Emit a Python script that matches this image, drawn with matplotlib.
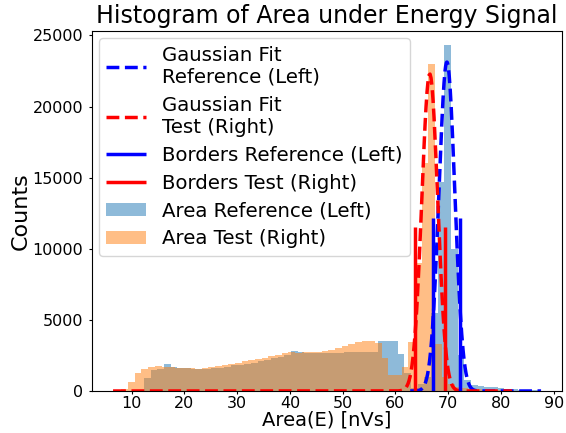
import numpy as np
import matplotlib
matplotlib.use("Agg")
import matplotlib.pyplot as plt

# histogram bins (same width for both runs, different start)
bin_width = 1.265
ref_start = 12.35
test_start = 6.8

# counts per bin, Reference (Left)
ref_counts = [900, 1500, 1550, 1900, 1700, 1650, 1620, 1560, 1520, 1550,
              1600, 1650, 1720, 1800, 1850, 1920, 2000, 2100, 2200, 2300,
              2400, 2500, 2800, 2750, 2700, 2700, 2680, 2680, 2700, 2700,
              2720, 2720, 2750, 2750, 2750, 3500, 3500, 3520, 2600, 1300,
              200, 500, 1000, 5500, 14700, 24300, 10000, 2500, 800, 450,
              350, 300, 250, 200, 150, 120, 90, 70, 50, 30]

# counts per bin, Test (Right)
test_counts = [20, 120, 650, 1240, 1520, 1710, 1750, 1700, 1680, 1650,
               1640, 1600, 1560, 1620, 1700, 1780, 1850, 1930, 2000, 2080,
               2150, 2250, 2350, 2450, 2550, 2650, 2750, 2700, 2720, 2740,
               2760, 2800, 2880, 3000, 3150, 3300, 3450, 3500, 3550, 3350,
               2290, 1120, 1100, 1700, 3460, 9000, 16000, 23000, 3300, 1000,
               500, 300, 200, 150, 120, 100, 80, 60, 40, 20]

# gaussian fit parameters: amplitude, mean, sigma, x range
ref_fit = (23130, 69.75, 1.5)
ref_fit_range = (62.8, 87.6)
test_fit = (22300, 66.5, 1.5)
test_fit_range = (6.47, 82.1)

# integration borders
ref_borders = [67.05, 72.3]
test_borders = [63.76, 69.3]


def gauss(x, a, mu, sigma):
    return a * np.exp(-(x - mu) ** 2 / (2 * sigma ** 2))


ref_edges = ref_start + bin_width * np.arange(len(ref_counts) + 1)
test_edges = test_start + bin_width * np.arange(len(test_counts) + 1)

fig, ax = plt.subplots(figsize=(5.66, 4.33), dpi=100)
fig.subplots_adjust(left=0.162, right=0.9935, top=0.928, bottom=0.097)

x_ref = np.linspace(*ref_fit_range, 400)
x_test = np.linspace(*test_fit_range, 400)
ax.plot(x_ref, gauss(x_ref, *ref_fit), '--', color='blue', lw=2.5,
        label='Gaussian Fit\nReference (Left)')
ax.plot(x_test, gauss(x_test, *test_fit), '--', color='red', lw=2.5,
        label='Gaussian Fit\nTest (Right)')

ax.vlines(ref_borders, 0, max(ref_counts) / 2, color='blue', lw=2.5,
          label='Borders Reference (Left)')
ax.vlines(test_borders, 0, max(test_counts) / 2, color='red', lw=2.5,
          label='Borders Test (Right)')

ax.hist(ref_edges[:-1], bins=ref_edges, weights=ref_counts, alpha=0.5,
        label='Area Reference (Left)')
ax.hist(test_edges[:-1], bins=test_edges, weights=test_counts, alpha=0.5,
        label='Area Test (Right)')

ax.set_xlim(2.42, 91.63)
ax.set_ylim(0, 25300)
ax.set_xticks(range(10, 91, 10))
ax.tick_params(labelsize=11.5, length=2.5)
ax.tick_params(axis='x', pad=1)
ax.set_xlabel('Area(E) [nVs]', fontsize=14, labelpad=0)
ax.set_ylabel('Counts', fontsize=16, labelpad=1)
ax.set_title('Histogram of Area under Energy Signal', fontsize=17)
ax.legend(loc='upper left', fontsize=14.2, borderaxespad=0.35,
          labelspacing=0.45)

fig.savefig('out.png', dpi=100)
